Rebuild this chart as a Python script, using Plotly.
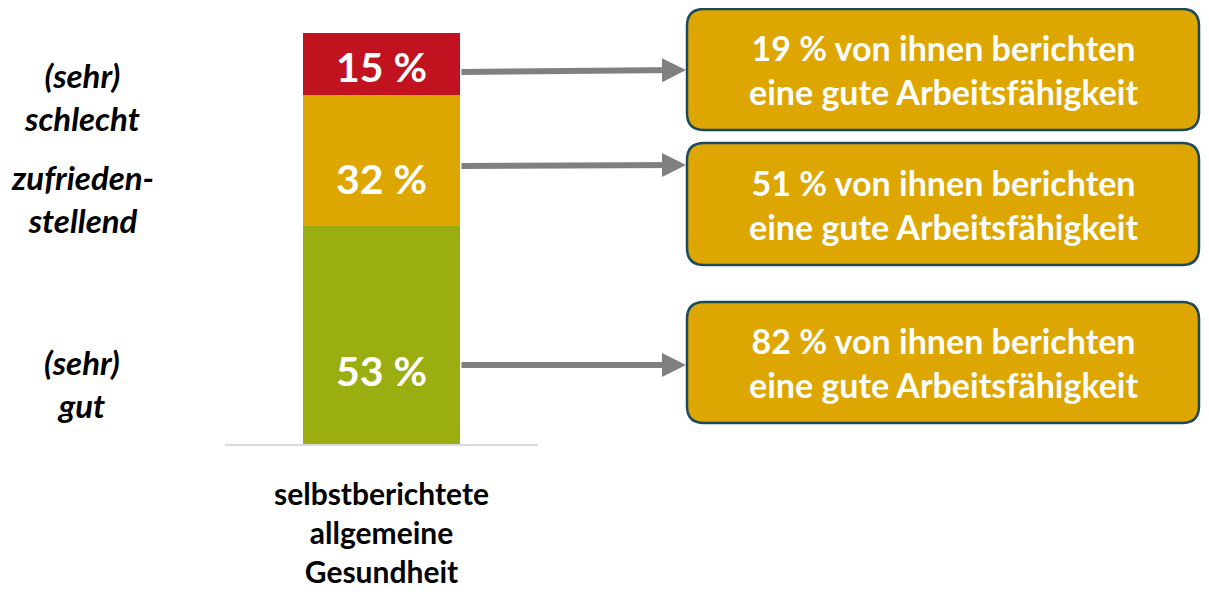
import plotly.graph_objects as go

# the page has an 8px body margin on every side; keep the figure inside the
# window so no scrollbars appear, and map reference pixels through OFF
OFF = 8
W, H = 1209 - 2 * OFF, 598 - 2 * OFF

# data
categories = ["selbstberichtete<br>allgemeine<br>Gesundheit"]
segments = ["(sehr)<br>gut", "zufrieden-<br>stellend", "(sehr)<br>schlecht"]
shares = [53, 32, 15]
good_work_ability = [82, 51, 19]

COLORS = ["#9bae11", "#dea600", "#c1121f"]
FONT = "Lato, Calibri, 'Open Sans', sans-serif"


def px(x):
    return (x - OFF) / W


def py(y):
    return 1 - (y - OFF) / H


def rrect(x0, y0, x1, y1, r):
    p = [
        f"M{px(x0 + r)},{py(y0)}", f"L{px(x1 - r)},{py(y0)}",
        f"Q{px(x1)},{py(y0)} {px(x1)},{py(y0 + r)}", f"L{px(x1)},{py(y1 - r)}",
        f"Q{px(x1)},{py(y1)} {px(x1 - r)},{py(y1)}", f"L{px(x0 + r)},{py(y1)}",
        f"Q{px(x0)},{py(y1)} {px(x0)},{py(y1 - r)}", f"L{px(x0)},{py(y0 + r)}",
        f"Q{px(x0)},{py(y0)} {px(x0 + r)},{py(y0)}", "Z",
    ]
    return " ".join(p)


fig = go.Figure()
for seg, val, col in zip(segments, shares, COLORS):
    fig.add_trace(go.Bar(
        x=categories, y=[val], name=seg.replace("<br>", " "),
        marker=dict(color=col, line=dict(width=0)),
        width=0.5, hoverinfo="skip",
    ))

# positions (reference pixels, from top)
label_y = [383, 199, 96]
value_y = [370, 178, 67]
box_y = [(302, 423), (143, 265), (9, 130)]
arrow_y = [(365, 365), (166, 165), (72, 70)]
BOX_X0, BOX_X1 = 687, 1199

shapes = []
annotations = []
for seg, val, ly, vy in zip(segments, shares, label_y, value_y):
    annotations.append(dict(
        text=f"<b><i>{seg}</i></b>", x=px(82), y=py(ly), xref="paper", yref="paper",
        showarrow=False, font=dict(family=FONT, size=33, color="black"),
        xanchor="center", yanchor="middle",
    ))
    annotations.append(dict(
        text=f"<b>{val} %</b>", x=categories[0], xref="x", y=py(vy), yref="paper",
        showarrow=False, font=dict(family=FONT, size=41, color="white"),
        xanchor="center", yanchor="middle",
    ))

for val, (y0, y1), (ya, yb) in zip(good_work_ability, box_y, arrow_y):
    shapes.append(dict(
        type="path", path=rrect(BOX_X0, y0, BOX_X1, y1, 17), xref="paper", yref="paper",
        fillcolor="#dea600", line=dict(color="#1d4a5a", width=2.5), layer="above",
    ))
    annotations.append(dict(
        text=f"<b>{val} % von ihnen berichten<br>eine gute Arbeitsfähigkeit</b>",
        x=px((BOX_X0 + BOX_X1) / 2), y=py((y0 + y1) / 2), xref="paper", yref="paper",
        showarrow=False, font=dict(family=FONT, size=34, color="white"),
        xanchor="center", yanchor="middle",
    ))
    annotations.append(dict(
        text="", x=px(BOX_X0 - 1), y=py(yb), xref="paper", yref="paper",
        ax=-(BOX_X0 - 1 - 460), ay=ya - yb, axref="pixel", ayref="pixel",
        showarrow=True, arrowhead=2, arrowsize=0.8, arrowwidth=6,
        arrowcolor="#808080",
    ))

fig.update_layout(
    width=W, height=H, barmode="stack", showlegend=False,
    plot_bgcolor="white", paper_bgcolor="white",
    margin=dict(l=0, r=0, t=0, b=0, autoexpand=False),
    font=dict(family=FONT, color="black"),
    xaxis=dict(
        domain=[px(225), px(538)], showline=True, linecolor="#d9d9d9", linewidth=2,
        showgrid=False, zeroline=False, ticks="", automargin=False,
        tickfont=dict(family=FONT, size=30, color="black"),
        ticklabelstandoff=23,
    ),
    yaxis=dict(
        domain=[py(444), py(33)], range=[0, 100], visible=False, automargin=False,
    ),
    shapes=shapes, annotations=annotations,
)
fig.update_xaxes(tickvals=categories, ticktext=[f"<b>{c}</b>" for c in categories])

fig.write_html("out.html")
